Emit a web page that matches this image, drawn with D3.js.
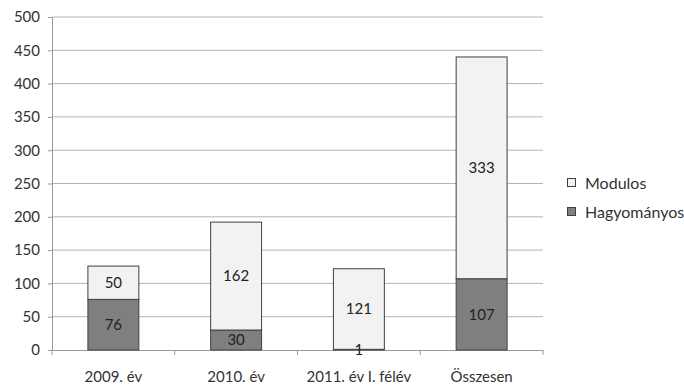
<!DOCTYPE html>
<html><head><meta charset="utf-8">
<script src="https://cdn.jsdelivr.net/npm/d3@7"></script>
<style>body{margin:0;background:#fff;}svg{display:block;font-family:Lato, "Open Sans", sans-serif;}</style>
</head><body>
<svg id="c" width="684" height="385"></svg>
<script>
const categories = ["2009. év", "2010. év", "2011. év I. félév", "Összesen"];
const hagyomanyos = [76, 30, 1, 107];
const modulos = [50, 162, 121, 333];
const seriesNames = ["Hagyományos", "Modulos"];
const yTicks = [0, 50, 100, 150, 200, 250, 300, 350, 400, 450, 500];

const svg = d3.select("#c");
const mLeft = 52, mRight = 543, mTop = 17, mBottom = 350;
const x = d3.scaleBand().domain(categories).range([mLeft, mRight]).paddingInner(0.585).paddingOuter(0.2925);
const y = d3.scaleLinear().domain([0, 500]).range([mBottom, mTop]);
const colors = {"Hagyományos": "#7f7f7f", "Modulos": "#f2f2f2"};
const textCol = "#333";

// gridlines
svg.append("g").selectAll("line").data(yTicks.filter(d => d > 0)).join("line")
  .attr("x1", mLeft).attr("x2", mRight).attr("y1", d => y(d)).attr("y2", d => y(d))
  .attr("stroke", "#b4b4b4").attr("stroke-width", 1);

// y axis
const ya = svg.append("g").attr("transform", `translate(${mLeft},0)`)
  .call(d3.axisLeft(y).tickValues(yTicks).tickSize(4).tickPadding(8));
ya.select(".domain").attr("stroke", "#9a9a9a");
ya.selectAll(".tick line").attr("stroke", "#9a9a9a");
ya.selectAll("text").attr("font-size", 15).attr("fill", textCol).style("font-family", "Lato, sans-serif");

// x axis
const xa = svg.append("g").attr("transform", `translate(0,${mBottom})`)
  .call(d3.axisBottom(x).tickSize(0).tickPadding(21).tickSizeOuter(0));
xa.select(".domain").attr("stroke", "#9a9a9a");
xa.selectAll("text").attr("font-size", 15).attr("fill", textCol).style("font-family", "Lato, sans-serif");
// category separators
svg.append("g").selectAll("line").data(d3.range(categories.length + 1)).join("line")
  .attr("x1", i => mLeft + i * (mRight - mLeft) / categories.length)
  .attr("x2", i => mLeft + i * (mRight - mLeft) / categories.length)
  .attr("y1", mBottom).attr("y2", mBottom + 5).attr("stroke", "#9a9a9a");

// stack
const rows = categories.map((c, i) => ({cat: c, "Hagyományos": hagyomanyos[i], "Modulos": modulos[i]}));
const stacked = d3.stack().keys(seriesNames)(rows);
const g = svg.append("g");
stacked.forEach(s => {
  g.selectAll(null).data(s).join("rect")
    .attr("x", d => x(d.data.cat)).attr("width", x.bandwidth())
    .attr("y", d => y(d[1])).attr("height", d => y(d[0]) - y(d[1]))
    .attr("fill", colors[s.key]).attr("stroke", "#404040").attr("stroke-width", 1);
});
stacked.forEach(s => {
  g.selectAll(null).data(s).join("text")
    .attr("x", d => x(d.data.cat) + x.bandwidth() / 2)
    .attr("y", d => (y(d[0]) + y(d[1])) / 2)
    .attr("dy", "0.36em").attr("text-anchor", "middle")
    .attr("font-size", 15).attr("fill", "#222")
    .text(d => d[1] - d[0]);
});

// legend
const legend = svg.append("g");
["Modulos", "Hagyományos"].forEach((k, i) => {
  const ly = 183 + i * 29;
  legend.append("rect").attr("x", 567.5).attr("y", ly - 4.5).attr("width", 8).attr("height", 8)
    .attr("fill", colors[k]).attr("stroke", "#404040");
  legend.append("text").attr("x", 585).attr("y", ly).attr("dy", "0.36em")
    .attr("font-size", 16).attr("fill", textCol).text(k);
});
</script>
</body></html>
